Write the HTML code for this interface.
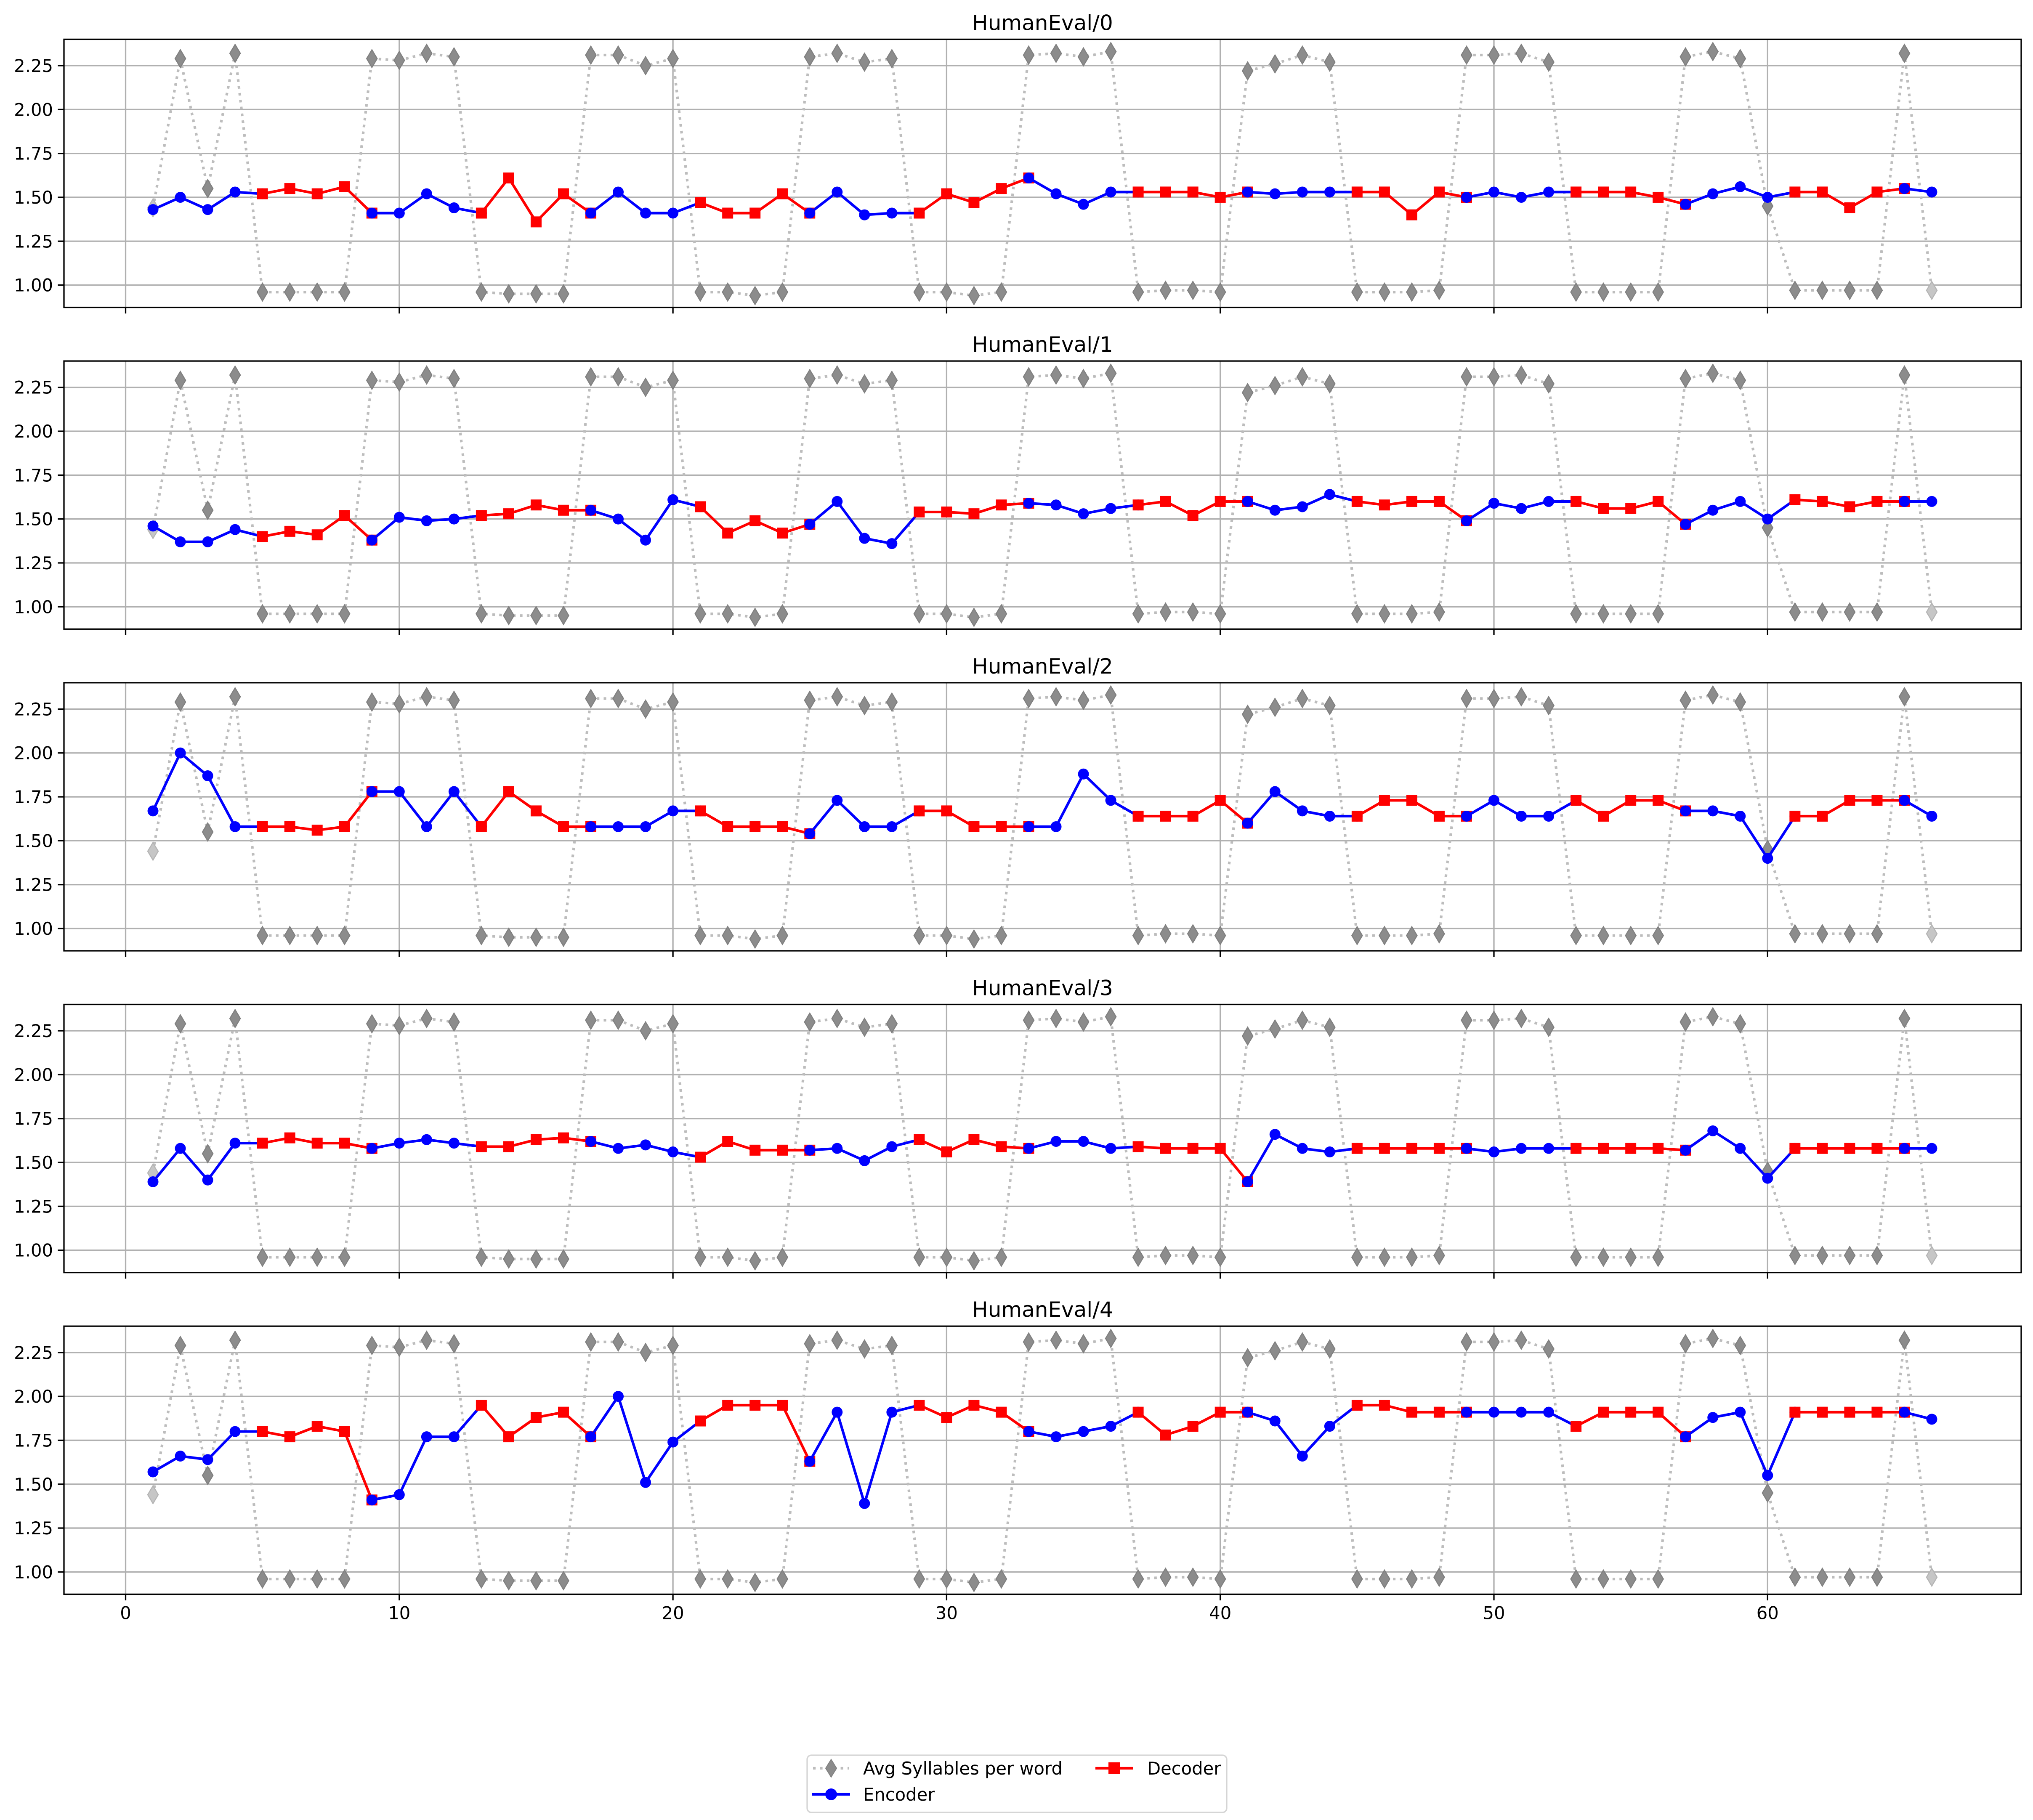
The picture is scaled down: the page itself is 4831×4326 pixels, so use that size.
<!DOCTYPE html>
<html><head><meta charset="utf-8"><style>
html,body{margin:0;padding:0;background:#fff;}
svg{display:block;font-family:"DejaVu Sans","Liberation Sans",sans-serif;}
</style></head><body>
<svg id="fig" xmlns="http://www.w3.org/2000/svg" width="4831" height="4326" viewBox="0 0 4831 4326">
<rect width="4831" height="4326" fill="#fff"/>
<g id="root"></g>
<g>
  <rect x="1918" y="4172" width="997" height="136" rx="10" fill="#fff" stroke="#d5d5d5" stroke-width="3.3"/>
  <g>
    <line x1="1932" y1="4203" x2="2018" y2="4203" stroke="#bdbdbd" stroke-width="6.2" stroke-dasharray="6.2,10.2"/>
    <polygon points="1975,4182 1988,4203 1975,4224 1962,4203" fill="#8c8c8c" stroke="#808080" stroke-width="2"/>
    <text x="2051" y="4218" font-size="41.7">Avg Syllables per word</text>
  </g>
  <g>
    <line x1="2603" y1="4203" x2="2693" y2="4203" stroke="#ff0000" stroke-width="6.2"/>
    <rect x="2634" y="4189" width="28" height="28" fill="#ff0000"/>
    <text x="2726" y="4218" font-size="41.7">Decoder</text>
  </g>
  <g>
    <line x1="1930" y1="4265" x2="2020" y2="4265" stroke="#0000ff" stroke-width="6.2"/>
    <circle cx="1975" cy="4265" r="14" fill="#0000ff"/>
    <text x="2051" y="4280" font-size="41.7">Encoder</text>
  </g>
</g>
</svg>
<script>
const xTicks = [0, 10, 20, 30, 40, 50, 60];
const yTicks = [1.00, 1.25, 1.50, 1.75, 2.00, 2.25];
const panelTitles = ["HumanEval/0", "HumanEval/1", "HumanEval/2", "HumanEval/3", "HumanEval/4"];
const syllables = [1.44,2.29,1.55,2.32,0.96,0.96,0.96,0.96,2.29,2.28,2.32,2.30,0.96,0.95,0.95,0.95,2.31,2.31,2.25,2.29,0.96,0.96,0.94,0.96,2.30,2.32,2.27,2.29,0.96,0.96,0.94,0.96,2.31,2.32,2.30,2.33,0.96,0.97,0.97,0.96,2.22,2.26,2.31,2.27,0.96,0.96,0.96,0.97,2.31,2.31,2.32,2.27,0.96,0.96,0.96,0.96,2.30,2.33,2.29,1.45,0.97,0.97,0.97,0.97,2.32,0.97];
const roles = ["E","E","E","E","D","D","D","D","E","E","E","E","D","D","D","D","E","E","E","E","D","D","D","D","E","E","E","E","D","D","D","D","E","E","E","E","D","D","D","D","E","E","E","E","D","D","D","D","E","E","E","E","D","D","D","D","E","E","E","E","D","D","D","D","E","E"];
const values0 = [1.43,1.50,1.43,1.53,1.52,1.55,1.52,1.56,1.41,1.41,1.52,1.44,1.41,1.61,1.36,1.52,1.41,1.53,1.41,1.41,1.47,1.41,1.41,1.52,1.41,1.53,1.40,1.41,1.41,1.52,1.47,1.55,1.61,1.52,1.46,1.53,1.53,1.53,1.53,1.50,1.53,1.52,1.53,1.53,1.53,1.53,1.40,1.53,1.50,1.53,1.50,1.53,1.53,1.53,1.53,1.50,1.46,1.52,1.56,1.50,1.53,1.53,1.44,1.53,1.55,1.53];
const values1 = [1.46,1.37,1.37,1.44,1.40,1.43,1.41,1.52,1.38,1.51,1.49,1.50,1.52,1.53,1.58,1.55,1.55,1.50,1.38,1.61,1.57,1.42,1.49,1.42,1.47,1.60,1.39,1.36,1.54,1.54,1.53,1.58,1.59,1.58,1.53,1.56,1.58,1.60,1.52,1.60,1.60,1.55,1.57,1.64,1.60,1.58,1.60,1.60,1.49,1.59,1.56,1.60,1.60,1.56,1.56,1.60,1.47,1.55,1.60,1.50,1.61,1.60,1.57,1.60,1.60,1.60];
const values2 = [1.67,2.00,1.87,1.58,1.58,1.58,1.56,1.58,1.78,1.78,1.58,1.78,1.58,1.78,1.67,1.58,1.58,1.58,1.58,1.67,1.67,1.58,1.58,1.58,1.54,1.73,1.58,1.58,1.67,1.67,1.58,1.58,1.58,1.58,1.88,1.73,1.64,1.64,1.64,1.73,1.60,1.78,1.67,1.64,1.64,1.73,1.73,1.64,1.64,1.73,1.64,1.64,1.73,1.64,1.73,1.73,1.67,1.67,1.64,1.40,1.64,1.64,1.73,1.73,1.73,1.64];
const values3 = [1.39,1.58,1.40,1.61,1.61,1.64,1.61,1.61,1.58,1.61,1.63,1.61,1.59,1.59,1.63,1.64,1.62,1.58,1.60,1.56,1.53,1.62,1.57,1.57,1.57,1.58,1.51,1.59,1.63,1.56,1.63,1.59,1.58,1.62,1.62,1.58,1.59,1.58,1.58,1.58,1.39,1.66,1.58,1.56,1.58,1.58,1.58,1.58,1.58,1.56,1.58,1.58,1.58,1.58,1.58,1.58,1.57,1.68,1.58,1.41,1.58,1.58,1.58,1.58,1.58,1.58];
const values4 = [1.57,1.66,1.64,1.80,1.80,1.77,1.83,1.80,1.41,1.44,1.77,1.77,1.95,1.77,1.88,1.91,1.77,2.00,1.51,1.74,1.86,1.95,1.95,1.95,1.63,1.91,1.39,1.91,1.95,1.88,1.95,1.91,1.80,1.77,1.80,1.83,1.91,1.78,1.83,1.91,1.91,1.86,1.66,1.83,1.95,1.95,1.91,1.91,1.91,1.91,1.91,1.91,1.83,1.91,1.91,1.91,1.77,1.88,1.91,1.55,1.91,1.91,1.91,1.91,1.91,1.87];
const panelValues = [values0, values1, values2, values3, values4];

const NS = "http://www.w3.org/2000/svg";
const root = document.getElementById("root");
const AX_L = 152, AX_R = 4803, AX_H = 637.2, PANEL_STEP = 764.7, TOP0 = 93.4;
const Y_MIN = 0.873, Y_MAX = 2.400, X0 = 298.5, XU = 65.03;
function el(tag, attrs, parent) {
  const e = document.createElementNS(NS, tag);
  for (const k in attrs) e.setAttribute(k, attrs[k]);
  parent.appendChild(e);
  return e;
}
function xs(v) { return X0 + XU * v; }

panelTitles.forEach((title, p) => {
  const top = TOP0 + p * PANEL_STEP;
  const bot = top + AX_H;
  const ys = v => top + (Y_MAX - v) / (Y_MAX - Y_MIN) * AX_H;
  const g = el("g", {}, root);
  
  

  const clipId = "clip" + p;
  const cp = el("clipPath", {id: clipId}, g);
  el("rect", {x: AX_L, y: top, width: AX_R - AX_L, height: AX_H}, cp);

  // grid
  xTicks.forEach(t => {
    const l = el("line", {x1: xs(t), x2: xs(t), y1: top, y2: bot, stroke: "#b0b0b0", "stroke-width": 3.3}, g);
    
    
    const tk = el("line", {x1: xs(t), x2: xs(t), y1: bot, y2: bot + 14.6, stroke: "#000", "stroke-width": 3.3}, g);
    
    
    if (p === panelTitles.length - 1) {
      const tx = el("text", {x: xs(t), y: bot + 59, "font-size": 41.7, "text-anchor": "middle"}, g);
      tx.textContent = String(t);
      
      
    }
  });
  yTicks.forEach(t => {
    const l = el("line", {x1: AX_L, x2: AX_R, y1: ys(t), y2: ys(t), stroke: "#b0b0b0", "stroke-width": 3.3}, g);
    
    
    const tk = el("line", {x1: AX_L - 14.6, x2: AX_L, y1: ys(t), y2: ys(t), stroke: "#000", "stroke-width": 3.3}, g);
    
    
    const tx = el("text", {x: AX_L - 26, y: ys(t) + 15, "font-size": 41.7, "text-anchor": "end"}, g);
    tx.textContent = t.toFixed(2);
    
    
  });

  const plot = el("g", {"clip-path": "url(#" + clipId + ")"}, g);
  // syllables
  const sPts = syllables.map((v, i) => xs(i + 1) + "," + ys(v)).join(" ");
  const sl = el("polyline", {points: sPts, fill: "none", stroke: "#bdbdbd", "stroke-width": 6.2, "stroke-dasharray": "6.2,10.2"}, plot);
  
  
  syllables.forEach((v, i) => {
    const cx = xs(i + 1), cy = ys(v);
    const light = (i === 0 || i === syllables.length - 1);
    const d = el("polygon", {points: `${cx},${cy-21} ${cx+12.5},${cy} ${cx},${cy+21} ${cx-12.5},${cy}`,
      fill: light ? "#c6c6c6" : "#8c8c8c", stroke: light ? "#b5b5b5" : "#808080", "stroke-width": 2.5}, plot);
    
    
  });

  // encoder/decoder runs
  const vals = panelValues[p];
  let i = 0;
  while (i < vals.length) {
    let j = i;
    while (j + 1 < vals.length && roles[j + 1] === roles[i]) j++;
    const end = Math.min(j + 1, vals.length - 1);
    const isEnc = roles[i] === "E";
    const col = isEnc ? "#0000ff" : "#ff0000";
    const seg = el("g", {}, plot);
    
    
    const pts = [];
    for (let k = i; k <= end; k++) pts.push(xs(k + 1) + "," + ys(vals[k]));
    el("polyline", {points: pts.join(" "), fill: "none", stroke: col, "stroke-width": 6.2, "stroke-linejoin": "round"}, seg);
    for (let k = i; k <= end; k++) {
      const cx = xs(k + 1), cy = ys(vals[k]);
      if (isEnc) {
        const c = el("circle", {cx: cx, cy: cy, r: 13, fill: col}, seg);
        
        
      } else {
        const r = el("rect", {x: cx - 13, y: cy - 13, width: 26, height: 26, fill: col}, seg);
        
        
      }
    }
    i = j + 1;
  }

  const frame = el("rect", {x: AX_L, y: top, width: AX_R - AX_L, height: AX_H, fill: "none", stroke: "#000", "stroke-width": 3.3}, g);
  
  
  const tt = el("text", {x: (AX_L + AX_R) / 2, y: top - 22, "font-size": 50, "text-anchor": "middle"}, g);
  tt.textContent = title;
  
  
});
</script>
</body></html>
